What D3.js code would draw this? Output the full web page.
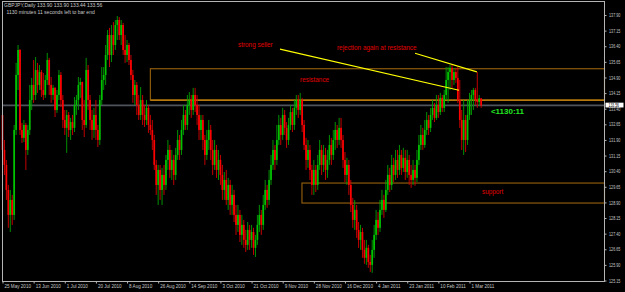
<!DOCTYPE html>
<html><head><meta charset="utf-8">
<script src="https://cdn.jsdelivr.net/npm/d3@7"></script>
<style>
html,body{margin:0;padding:0;background:#000;}
svg{display:block;font-family:"Liberation Sans",Arial,sans-serif;}
</style></head><body>
<svg id="chart" width="625" height="292"></svg>
<script>
// GBPJPY daily bars, 25 May 2010 .. 8 Mar 2011 (open = previous close)
const firstOpen = 133.10;
const closes = [
  131.42,130.70,129.50,128.30,129.02,128.30,132.38,135.02,136.22,132.38,
  132.00,132.62,131.42,132.38,133.82,134.54,134.06,135.26,134.54,135.16,
  134.30,134.06,134.78,135.74,134.54,134.06,134.40,133.34,134.06,135.02,
  133.82,132.86,132.48,133.10,132.38,132.76,132.48,133.58,133.82,134.54,
  134.68,132.86,132.62,135.26,133.82,132.86,132.38,133.10,132.38,131.90,
  133.82,134.78,135.02,135.98,136.94,135.98,136.94,136.46,137.42,137.66,
  136.94,137.42,136.22,135.98,136.46,135.74,135.02,134.06,134.54,133.58,
  133.10,133.82,133.10,132.86,133.44,132.62,132.38,131.90,130.70,129.74,
  130.46,129.50,130.22,129.74,130.94,131.42,130.46,130.94,130.22,131.18,
  131.90,131.42,132.38,133.10,132.62,133.58,133.82,133.34,134.06,133.58,
  133.10,132.38,132.86,131.90,131.18,131.90,132.38,131.42,130.70,131.42,
  130.46,130.94,130.22,129.50,129.98,129.02,129.74,128.78,129.26,128.30,
  127.82,128.30,127.34,127.82,127.10,126.86,127.58,127.10,127.48,126.72,
  127.10,127.82,128.30,127.82,128.78,129.50,129.02,129.98,130.70,131.42,
  130.94,131.90,132.62,132.14,133.10,132.48,131.90,132.62,133.24,132.62,
  133.44,133.82,133.34,133.82,132.62,131.66,130.94,131.42,130.46,129.74,
  130.46,129.74,130.70,131.42,130.70,131.18,130.46,130.94,131.66,131.18,
  131.90,132.38,131.90,132.48,131.90,130.94,130.22,130.70,129.74,128.78,
  128.06,128.54,127.58,127.10,127.48,126.62,126.24,126.72,126.04,125.90,
  126.62,127.34,128.06,127.68,128.54,129.02,128.54,129.50,130.22,129.74,
  130.70,130.22,130.94,130.46,131.18,130.56,131.04,130.36,130.94,130.22,
  129.98,130.46,130.08,130.94,131.66,132.14,131.66,132.38,132.86,132.48,
  133.10,133.44,132.96,133.58,133.24,133.92,133.44,134.06,134.78,135.16,
  135.36,134.78,135.16,134.88,133.82,132.86,131.90,132.86,131.90,133.10,
  133.82,134.06,134.30,133.82,133.72,133.90,133.56
];
const highs = [
  133.34,131.90,130.94,129.74,129.50,129.26,132.62,135.60,136.46,136.27,
  132.72,132.86,132.72,132.62,134.54,134.88,135.74,135.88,135.60,135.50,
  135.26,135.12,135.02,136.08,135.84,134.92,134.54,134.44,134.30,135.26,
  135.16,134.06,133.34,133.34,133.24,132.96,133.10,133.96,134.06,134.92,
  134.88,134.70,133.82,135.84,135.50,134.06,133.34,133.44,133.82,132.62,
  134.06,135.40,135.40,136.46,137.18,137.28,137.42,137.56,137.66,137.85,
  137.80,137.66,137.52,136.94,136.70,136.56,135.98,135.26,134.78,134.68,
  134.06,134.44,134.06,133.58,133.82,133.58,133.10,132.86,132.14,130.94,
  130.70,130.70,130.56,130.70,131.18,131.90,131.66,131.42,131.18,131.52,
  132.38,132.14,132.86,133.58,133.34,134.06,134.20,134.06,134.40,134.40,
  134.06,133.58,133.10,133.10,132.14,132.38,132.86,132.62,131.90,131.90,
  131.66,131.42,131.18,130.70,130.36,130.46,130.08,129.98,129.74,129.50,
  128.78,128.78,128.54,128.30,128.06,127.58,127.96,127.82,127.82,127.68,
  127.34,128.30,128.78,128.54,129.26,129.98,129.74,130.46,131.18,131.90,
  131.66,132.62,133.10,132.96,133.44,133.34,132.76,132.96,133.58,133.44,
  133.82,134.06,134.06,134.16,133.92,132.86,132.00,131.90,131.66,130.70,
  130.94,130.70,131.18,131.90,131.66,131.66,131.52,131.42,132.14,132.00,
  132.38,132.76,132.62,132.96,132.96,132.14,131.32,131.04,130.94,129.98,
  129.12,129.02,128.78,127.96,127.82,127.68,127.10,127.10,126.86,126.38,
  127.10,127.82,128.54,128.44,129.02,129.50,129.26,129.98,130.70,130.56,
  131.18,131.04,131.42,131.42,131.66,131.42,131.52,131.42,131.42,131.18,
  130.70,130.94,130.70,131.42,132.14,132.62,132.48,132.86,133.24,133.10,
  133.44,133.82,133.68,134.06,134.06,134.16,134.06,134.30,135.40,135.40,
  135.50,135.50,135.36,135.36,135.40,134.78,133.34,133.82,133.10,133.82,
  134.16,134.30,134.40,134.40,135.16,134.06,133.90
];
const lows = [
  130.94,130.22,129.02,127.68,127.48,127.82,128.06,132.14,134.30,132.14,
  131.76,131.80,130.46,131.18,132.14,133.34,133.68,133.82,134.16,134.30,
  133.96,133.82,133.92,134.54,134.06,133.68,133.82,133.00,133.20,133.82,
  133.48,132.48,132.14,131.28,132.04,131.90,132.14,132.28,133.10,133.34,
  133.92,132.38,132.04,132.48,133.34,132.38,131.90,132.00,131.90,131.56,
  131.66,133.58,134.30,134.54,135.74,135.40,135.64,135.98,136.22,136.70,
  136.70,136.46,135.98,135.60,135.64,135.50,134.78,133.68,133.58,133.10,
  132.86,132.86,132.62,132.52,132.62,132.24,132.14,131.42,130.46,129.26,
  128.78,129.02,128.78,129.26,129.50,130.46,130.08,129.98,129.74,129.98,
  130.94,130.94,131.18,132.14,132.38,132.38,133.10,132.96,133.10,133.24,
  132.62,131.90,131.90,131.42,130.70,130.94,131.42,130.94,130.22,130.46,
  130.08,129.98,129.74,129.02,129.02,128.78,128.54,128.30,128.30,127.96,
  127.34,127.48,127.00,126.86,126.72,126.52,126.62,126.62,126.72,126.38,
  126.28,126.86,127.48,127.34,127.58,128.54,128.64,128.78,129.74,130.46,
  130.46,130.70,131.66,131.66,131.90,132.14,131.52,131.66,132.38,132.28,
  132.38,133.10,132.96,133.10,132.28,131.42,130.46,130.56,129.98,129.26,
  129.26,129.40,129.50,130.46,130.22,130.36,129.98,130.08,130.70,130.70,
  130.94,131.42,131.52,131.66,131.52,130.56,129.88,129.74,129.26,128.44,
  127.68,127.58,127.20,126.72,126.62,126.24,125.95,125.90,125.76,125.56,
  125.52,126.24,127.10,127.34,127.48,128.30,128.16,128.44,129.26,129.40,
  129.50,129.88,129.98,130.08,130.22,130.22,130.36,129.98,130.08,129.74,
  129.60,129.74,129.70,129.88,130.70,131.42,131.42,131.52,132.14,132.14,
  132.28,132.86,132.76,132.86,132.96,133.10,133.24,133.24,133.82,133.68,
  134.30,134.40,134.54,134.64,133.68,132.48,131.42,131.18,131.32,131.66,
  132.86,133.10,133.34,133.58,133.44,133.53,133.44
];

const dateLabels = ['25 May 2010','13 Jun 2010','1 Jul 2010','20 Jul 2010','8 Aug 2010','26 Aug 2010',
  '14 Sep 2010','3 Oct 2010','21 Oct 2010','9 Nov 2010','28 Nov 2010','16 Dec 2010','4 Jan 2011',
  '23 Jan 2011','10 Feb 2011','1 Mar 2011'];
const dateBars = [0,16,32,48,64,80,96,112,128,144,160,176,192,208,224,240];

const priceTicks = [137.90,137.15,136.40,135.65,134.90,134.15,133.40,132.65,131.90,131.15,
  130.40,129.65,128.90,128.15,127.40,126.65,125.90,125.15];
const lastPrice = 133.56;
const header = ['GBPJPY,Daily  133.90 133.90 133.44 133.56', '1130 minutes 11 seconds left to bar end'];

// drawn objects: boxes, trend lines, notes (bar index / price)
const zones = [
  { from: 76, top: 135.32, bottom: 133.81 },
  { from: 153.9, top: 129.83, bottom: 128.87 }
];
const trendLines = [
  { b1: 142.6, p1: 136.26, b2: 234.6, p2: 134.29 },
  { b1: 212, p1: 136.06, b2: 243.8, p2: 135.17 }
];
const notes = [
  { text: 'strong seller', bar: 121, price: 136.36 },
  { text: 'rejection again at resistance', bar: 171.9, price: 136.22 },
  { text: 'resistance', bar: 152.9, price: 134.68 },
  { text: 'support', bar: 246.4, price: 129.31 }
];
const timer = { text: '<1130:11', bar: 251, price: 133.16 };

const W = 625, H = 292;
const frame = { left: 2.5, right: 604.5, top: 1.5, bottom: 281.5 };
const svg = d3.select('#chart');
svg.append('rect').attr('width', W).attr('height', H).attr('fill', '#000');

const x = d3.scaleLinear().domain([0, 240]).range([2.5, 469.5]);
const y = d3.scaleLinear().domain([125.15, 137.90]).range([280.5, 15]);

const plot = svg.append('g');

// zones
zones.forEach((z) => {
  plot.append('rect').attr('x', x(z.from)).attr('y', y(z.top))
    .attr('width', frame.right - x(z.from)).attr('height', y(z.bottom) - y(z.top))
    .attr('fill', 'none').attr('stroke', '#8c5a0c').attr('stroke-width', 1.2);
});
plot.append('line').attr('x1', x(zones[0].from)).attr('x2', frame.right)
  .attr('y1', y(zones[0].bottom)).attr('y2', y(zones[0].bottom))
  .attr('stroke', '#d08a10').attr('stroke-width', 1.2);

// bid line
plot.append('line').attr('x1', frame.left).attr('x2', frame.right)
  .attr('y1', y(lastPrice)).attr('y2', y(lastPrice))
  .attr('stroke', '#4e535c').attr('stroke-width', 1.6);

// candles
const bars = closes.map((c, i) => ({ i, o: i ? closes[i - 1] : firstOpen, h: highs[i], l: lows[i], c }));
const candle = plot.selectAll('g.candle').data(bars).join('g').attr('class', 'candle');
candle.append('line')
  .attr('x1', (d) => x(d.i)).attr('x2', (d) => x(d.i))
  .attr('y1', (d) => y(d.h)).attr('y2', (d) => y(d.l))
  .attr('stroke', (d) => d.c >= d.o ? '#00a000' : '#d80000').attr('stroke-width', 0.9);
candle.append('rect')
  .attr('x', (d) => x(d.i) - 0.85).attr('width', 1.7)
  .attr('y', (d) => y(Math.max(d.o, d.c)))
  .attr('height', (d) => Math.max(0.8, Math.abs(y(d.o) - y(d.c))))
  .attr('fill', (d) => d.c >= d.o ? '#00c400' : '#ff0000');

// trend lines
trendLines.forEach((t) => {
  plot.append('line').attr('x1', x(t.b1)).attr('y1', y(t.p1)).attr('x2', x(t.b2)).attr('y2', y(t.p2))
    .attr('stroke', '#ffff00').attr('stroke-width', 1.1);
});

notes.forEach((n) => {
  plot.append('text').attr('x', x(n.bar)).attr('y', y(n.price)).attr('font-size', 6.4)
    .attr('fill', '#e00000').text(n.text);
});
plot.append('text').attr('x', x(timer.bar)).attr('y', y(timer.price)).attr('font-size', 8)
  .attr('font-weight', 'bold').attr('fill', '#22e622').text(timer.text);

// frame
svg.append('rect').attr('x', frame.left).attr('y', frame.top)
  .attr('width', frame.right - frame.left).attr('height', frame.bottom - frame.top)
  .attr('fill', 'none').attr('stroke', '#b4b4b4').attr('stroke-width', 1);

// price axis
const yAxis = svg.append('g').attr('transform', `translate(${frame.right},0)`)
  .call(d3.axisRight(y).tickValues(priceTicks).tickSize(2).tickFormat(d3.format('.2f')));
yAxis.select('.domain').remove();
yAxis.selectAll('line').attr('stroke', '#b4b4b4');
yAxis.selectAll('text').attr('fill', '#c8c8c8').attr('font-size', 5).attr('x', 0)
  .attr('transform', 'translate(4.5,0) scale(0.75,1)');

// last price marker on the axis
const lp = svg.append('g').attr('transform', `translate(${frame.right + 1},${y(lastPrice)})`);
lp.append('rect').attr('x', 0).attr('y', -2.7).attr('width', 18).attr('height', 4.8).attr('fill', '#fff');
lp.append('text').attr('x', 0).attr('y', 0).attr('dy', '0.3em').attr('font-size', 4.6).attr('fill', '#000')
  .attr('transform', 'translate(3,0) scale(0.75,1)').text(d3.format('.2f')(lastPrice));

// time axis
const xAxis = svg.append('g').attr('transform', `translate(0,${frame.bottom})`)
  .call(d3.axisBottom(x).tickValues(dateBars).tickSize(2).tickFormat((d, i) => dateLabels[i]));
xAxis.select('.domain').remove();
xAxis.selectAll('line').attr('stroke', '#b4b4b4');
xAxis.selectAll('text').attr('fill', '#c8c8c8').attr('font-size', 5.4).attr('text-anchor', 'start')
  .attr('y', 0).attr('dy', 0).attr('transform', 'translate(1.5,6.3) scale(0.85,1)');

// header
header.forEach((h, i) => {
  svg.append('text').attr('x', i ? 6.5 : 4).attr('y', 7 + i * 6.5).attr('font-size', 5)
    .attr('fill', '#c8c8c8').text(h);
});
</script>
</body></html>
